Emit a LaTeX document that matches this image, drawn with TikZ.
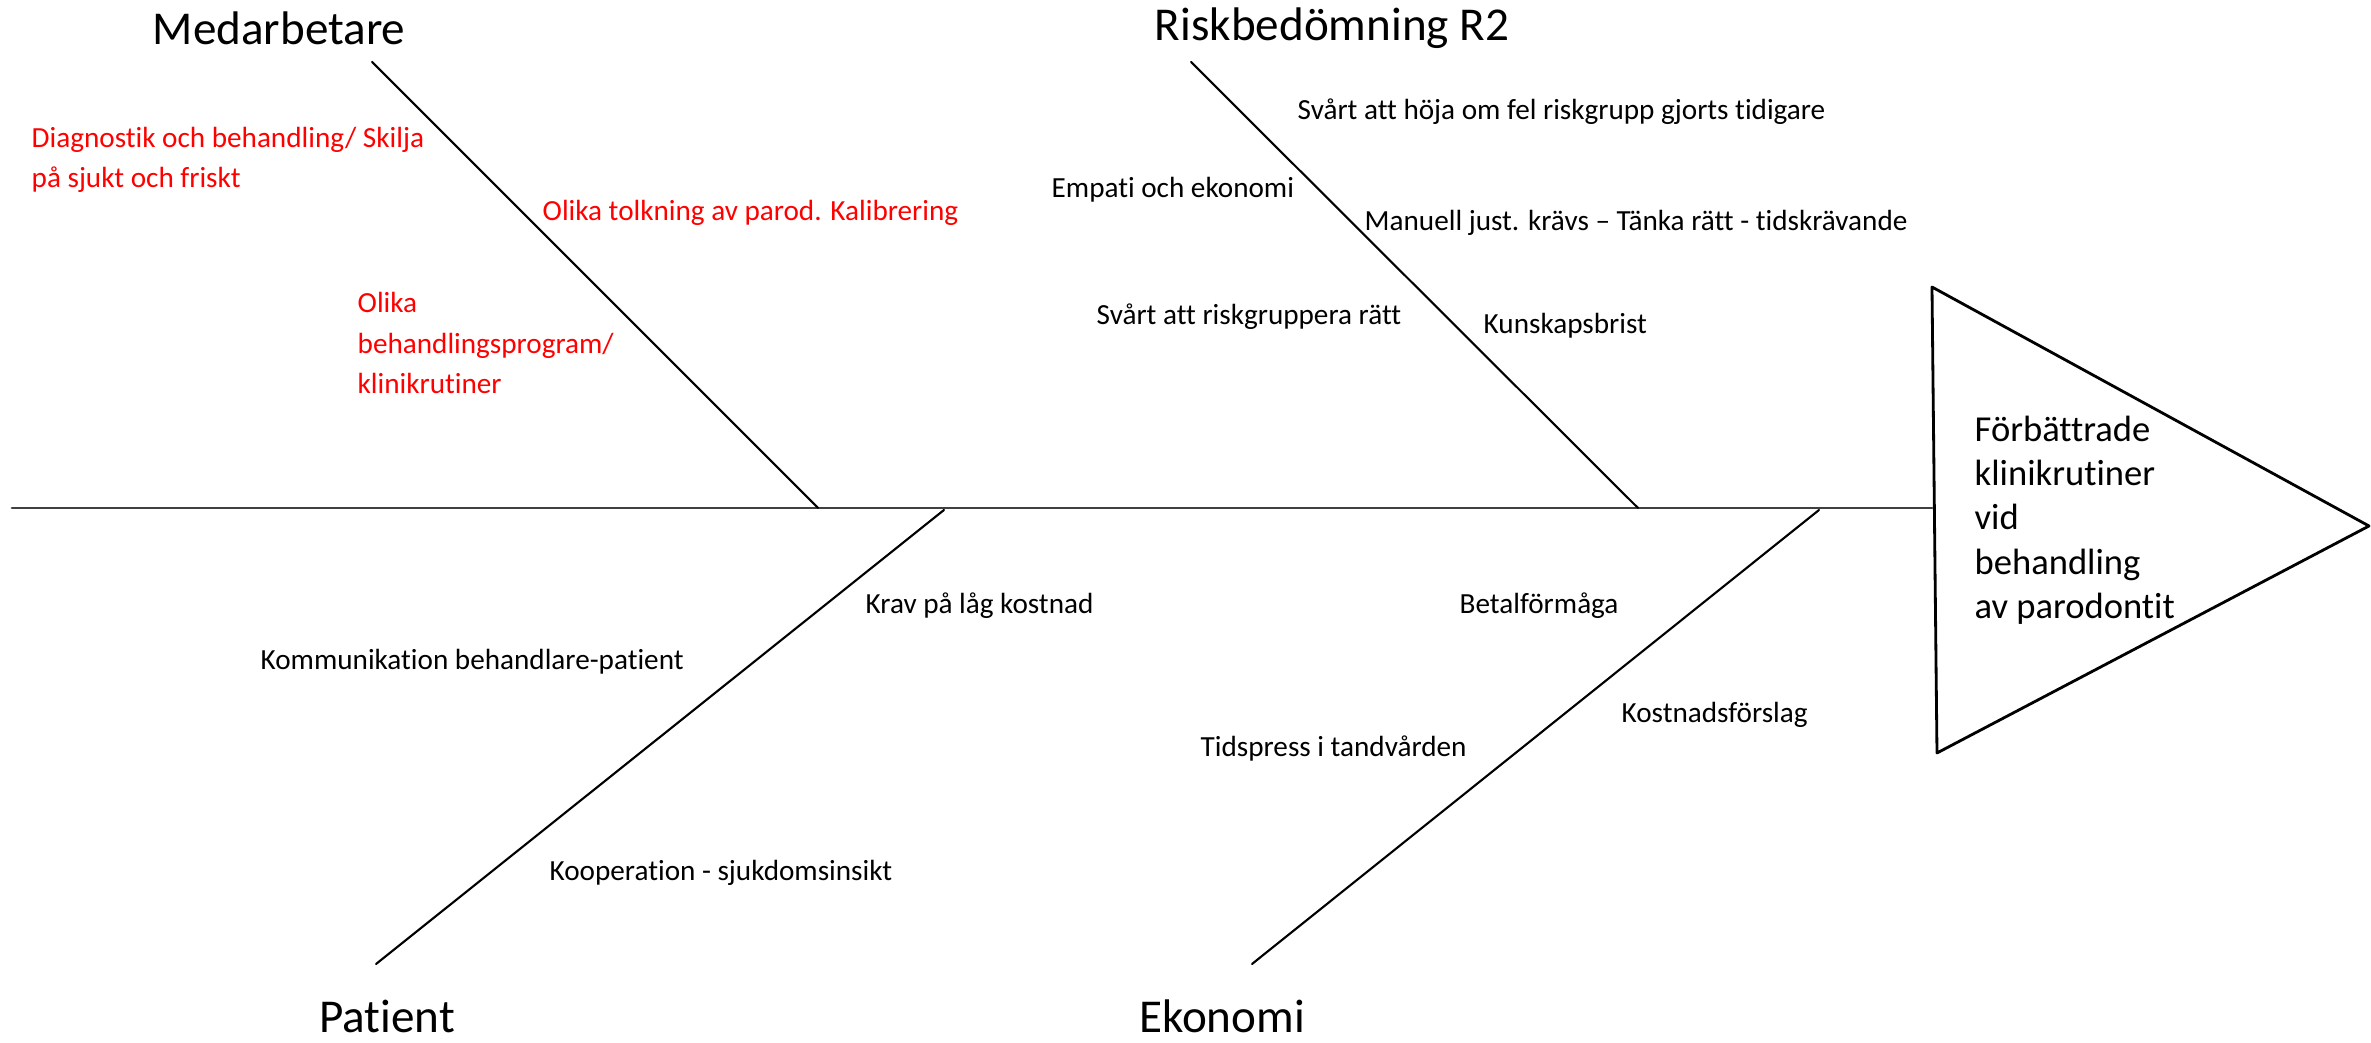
\documentclass[tikz,border=0pt]{standalone}
\usepackage{fontspec}
\setmainfont{Carlito}[Ligatures=CommonOff]
\begin{document}
\begin{tikzpicture}[x=0.01cm,y=-0.01cm,line join=round,line cap=round]
	\tikzset{
		rubrik/.style={inner sep=0pt,font=\fontsize{13.4}{16}\selectfont},
		orsak/.style={anchor=west,inner sep=0pt,align=left,font=\fontsize{8.3}{11.4}\selectfont},
		rod/.style={orsak,text=red},
		ben/.style={line width=0.6pt},
	}
	\useasboundingbox (0,0) rectangle (2371,1043);
	
	%%%% ryggrad och huvud
	\coordinate (start) at (12,508);
	\coordinate (hTop) at (1932,287);
	\coordinate (hBot) at (1937,753);
	\coordinate (hTip) at (2369,526);
	\draw[line width=0.8pt,black!75] (start)--(1932,508) coordinate (hMid);
	\draw[line width=0.8pt] (hTop)--(hTip)--(hBot)--cycle; %triangel
	\node[anchor=west,inner sep=0pt,align=left,font=\fontsize{10.4}{12.6}\selectfont] (mal) at (1974,520)
		{Förbättrade\\klinikrutiner\\vid\\behandling\\av parodontit};
	
	%%%% ben
	\coordinate (medTop) at (372,62);   \coordinate (medFot) at (818,508);
	\coordinate (riskTop) at (1191,62); \coordinate (riskFot) at (1638,508);
	\coordinate (patBot) at (376,964);  \coordinate (patFot) at (944,510);
	\coordinate (ekoBot) at (1252,964); \coordinate (ekoFot) at (1819,510);
	\draw[ben] (medTop)--(medFot);
	\draw[ben] (riskTop)--(riskFot);
	\draw[ben] (patBot)--(patFot);
	\draw[ben] (ekoBot)--(ekoFot);
	
	%%%% rubriker
	\node[rubrik] (med) at (279,28) {Medarbetare};
	\node[rubrik] (risk) at (1332,28) {Riskbedömning R2};
	\node[rubrik] (pat) at (387,1016) {Patient};
	\node[rubrik] (eko) at (1222,1016) {Ekonomi};
	
	%%%% Medarbetare (röd)
	\node[rod] (diag) at (31,160) {Diagnostik och behandling/ Skilja\\på sjukt och friskt};
	\node[rod] (tolk) at (542,213) {Olika tolkning av parod. Kalibrering};
	\node[rod] (prog) at (357,343) {Olika\\behandlingsprogram/\\klinikrutiner};
	
	%%%% Riskbedömning
	\node[orsak] (hoja) at (1297,112) {Svårt att höja om fel riskgrupp gjorts tidigare};
	\node[orsak] (empati) at (1051,190) {Empati och ekonomi};
	\node[orsak] (manuell) at (1364,223) {Manuell just. krävs – Tänka rätt - tidskrävande};
	\node[orsak] (grupp) at (1096,317) {Svårt att riskgruppera rätt};
	\node[orsak] (kunskap) at (1483,326) {Kunskapsbrist};
	
	%%%% Patient
	\node[orsak] (krav) at (865,606) {Krav på låg kostnad};
	\node[orsak] (komm) at (260,662) {Kommunikation behandlare-patient};
	\node[orsak] (koop) at (549,873) {Kooperation - sjukdomsinsikt};
	
	%%%% Ekonomi
	\node[orsak] (betal) at (1459,606) {Betalförmåga};
	\node[orsak] (kostnad) at (1621,715) {Kostnadsförslag};
	\node[orsak] (tid) at (1200,749) {Tidspress i tandvården};
\end{tikzpicture}
\end{document}
